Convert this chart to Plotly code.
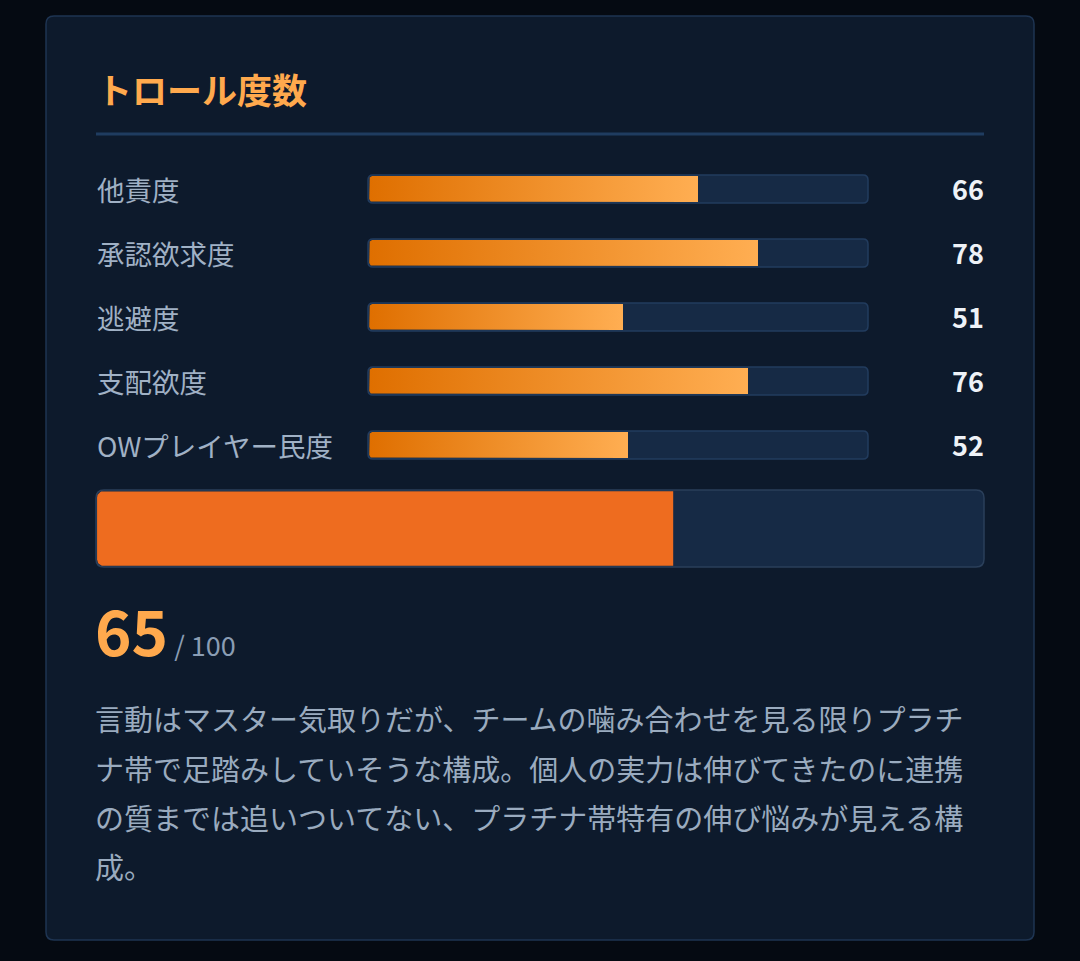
import numpy as np
import plotly.graph_objects as go

# ---------------- data ----------------
title = "トロール度数"
categories = ["他責度", "承認欲求度", "逃避度", "支配欲度", "OWプレイヤー民度"]
values = [66, 78, 51, 76, 52]
total_score = 65
total_max = 100
comment_lines = [
    "言動はマスター気取りだが、チームの噛み合わせを見る限りプラチ",
    "ナ帯で足踏みしていそうな構成。個人の実力は伸びてきたのに連携",
    "の質までは追いついてない、プラチナ帯特有の伸び悩みが見える構",
    "成。",
]

# ---------------- style ----------------
W, H = 1080, 961
FONT = "Noto Sans CJK JP"
PAGE_BG = "#050a12"
CARD_BG = "#0d1a2c"
CARD_BORDER = "#1e3452"
TRACK = "#162a45"
TRACK_BORDER = "#223c5e"
ORANGE_TXT = "#ffa94d"
LABEL_CLR = "#a0b1c5"
VALUE_CLR = "#eef2f7"


def rounded_rect(x0, y0, x1, y1, rx, ry=None):
    ry = rx if ry is None else ry
    sy = 1 if y1 > y0 else -1
    ryy = ry * sy
    return (f"M{x0+rx},{y0} L{x1-rx},{y0} Q{x1},{y0} {x1},{y0+ryy} "
            f"L{x1},{y1-ryy} Q{x1},{y1} {x1-rx},{y1} L{x0+rx},{y1} "
            f"Q{x0},{y1} {x0},{y1-ryy} L{x0},{y0+ryy} Q{x0},{y0} {x0+rx},{y0} Z")


def left_rounded_poly(x0, x1, yc, hh, rx, ry, k=10):
    """Polygon of a bar from x0 to x1 (centre yc, half height hh) with rounded left end."""
    t = np.linspace(0, np.pi / 2, k)
    xs = [x0 + rx, x1, x1, x0 + rx]
    ys = [yc - hh, yc - hh, yc + hh, yc + hh]
    xs += list(x0 + rx - rx * np.sin(t))
    ys += list(yc + hh - ry + ry * np.cos(t))
    xs += list(x0 + rx * (1 - np.cos(t)))
    ys += list(yc - hh + ry - ry * np.sin(t))
    xs.append(x0 + rx)
    ys.append(yc - hh)
    return xs, ys


fig = go.Figure()

# ---- card + divider (paper coordinates, lowest layer) ----
shapes = [
    dict(type="path", xref="paper", yref="paper", layer="below",
         path=rounded_rect(46 / W, 1 - 16 / H, 1034 / W, 1 - 940 / H, 8 / W, 8 / H),
         fillcolor=CARD_BG, line=dict(color=CARD_BORDER, width=1.5)),
    dict(type="line", xref="paper", yref="paper", layer="below",
         x0=96 / W, x1=984 / W, y0=1 - 134 / H, y1=1 - 134 / H,
         line=dict(color="#1f3c60", width=3)),
]

# ---- row bars: x2 / y2 (value axis 0..100, row index axis) ----
ROW_TOP, ROW_BOT = 157, 477
TX0, TX1 = 368, 868
n = len(categories)
ROW_PX = (ROW_BOT - ROW_TOP) / n
TRACK_H = 28 / ROW_PX
for i in range(n):
    shapes.append(dict(
        type="path", xref="x2 domain", yref="y2", layer="below",
        path=rounded_rect(0, i - TRACK_H / 2, 1, i + TRACK_H / 2, 5 / (TX1 - TX0), 5 / ROW_PX),
        fillcolor=TRACK, line=dict(color=TRACK_BORDER, width=1.5)))

fill_hh = 13 / ROW_PX
for i, v in enumerate(values):
    xs, ys = left_rounded_poly(0.25, v, i, fill_hh,
                               3.5 / (TX1 - TX0) * 100, 3.5 / ROW_PX)
    fig.add_trace(go.Scatter(
        x=xs, y=ys, mode="lines", line=dict(width=0), fill="toself",
        fillgradient=dict(type="horizontal",
                          colorscale=[[0, "#df6f00"], [1, "#ffae52"]]),
        xaxis="x2", yaxis="y2", hoverinfo="skip", showlegend=False,
    ))

# ---- big total bar: x3 / y3 ----
BX0, BX1, BY0, BY1 = 96, 984, 490, 567
shapes.append(dict(
    type="path", xref="x3 domain", yref="y3 domain", layer="below",
    path=rounded_rect(0, 0, 1, 1, 8 / (BX1 - BX0), 8 / (BY1 - BY0)),
    fillcolor=TRACK, line=dict(color="#2a3f5a", width=1.5)))
bxs, bys = left_rounded_poly(0.12, total_score, 0, 0.5 - 1.2 / (BY1 - BY0),
                             6.5 / (BX1 - BX0) * total_max, 6.5 / (BY1 - BY0))
fig.add_trace(go.Scatter(
    x=bxs, y=bys, mode="lines", line=dict(width=0), fill="toself",
    fillcolor="#ee6c1f", xaxis="x3", yaxis="y3", hoverinfo="skip", showlegend=False,
))

annotations = [
    dict(text=f"<b>{title}</b>", x=95 / W, y=1 - 89 / H, xref="paper", yref="paper",
         xanchor="left", yanchor="middle", showarrow=False,
         font=dict(family=FONT, size=35, color=ORANGE_TXT)),
]
for i, (c, v) in enumerate(zip(categories, values)):
    annotations.append(dict(text=c, x=95 / W, y=i, xref="paper", yref="y2",
                            xanchor="left", yanchor="middle", showarrow=False,
                            font=dict(family=FONT, size=27.5, color=LABEL_CLR)))
    annotations.append(dict(text=f"<b>{v}</b>", x=986 / W, y=i, xref="paper", yref="y2",
                            xanchor="right", yanchor="middle", showarrow=False,
                            font=dict(family=FONT, size=27, color=VALUE_CLR)))

annotations.append(dict(
    text=(f"<b><span style='font-size:62px;color:{ORANGE_TXT}'>{total_score}</span></b>"
          f"<span style='font-size:27px;color:#8a9db4'> / {total_max}</span>"),
    x=93 / W, y=1 - 629 / H, xref="paper", yref="paper", xanchor="left", yanchor="middle",
    showarrow=False, font=dict(family=FONT, size=27, color="#8a9db4")))

line_y = [718, 768, 817, 866]
for ln, yy in zip(comment_lines, line_y):
    annotations.append(dict(text=ln, x=93 / W, y=1 - yy / H, xref="paper", yref="paper",
                            xanchor="left", yanchor="middle", showarrow=False,
                            font=dict(family=FONT, size=29, color="#9aabbf")))

hidden = dict(visible=False, showgrid=False, zeroline=False, fixedrange=True)
fig.update_layout(
    width=W, height=H, margin=dict(l=0, r=0, t=0, b=0),
    paper_bgcolor=PAGE_BG, plot_bgcolor="rgba(0,0,0,0)",
    showlegend=False,
    xaxis2=dict(range=[0, 100], domain=[TX0 / W, TX1 / W], anchor="y2", **hidden),
    yaxis2=dict(range=[n - 0.5, -0.5], domain=[1 - ROW_BOT / H, 1 - ROW_TOP / H],
                anchor="x2", **hidden),
    xaxis3=dict(range=[0, total_max], domain=[BX0 / W, BX1 / W], anchor="y3", **hidden),
    yaxis3=dict(range=[-0.5, 0.5], domain=[1 - BY1 / H, 1 - BY0 / H], anchor="x3", **hidden),
    shapes=shapes, annotations=annotations,
)

fig.write_html("out.html", config={"displayModeBar": False})
